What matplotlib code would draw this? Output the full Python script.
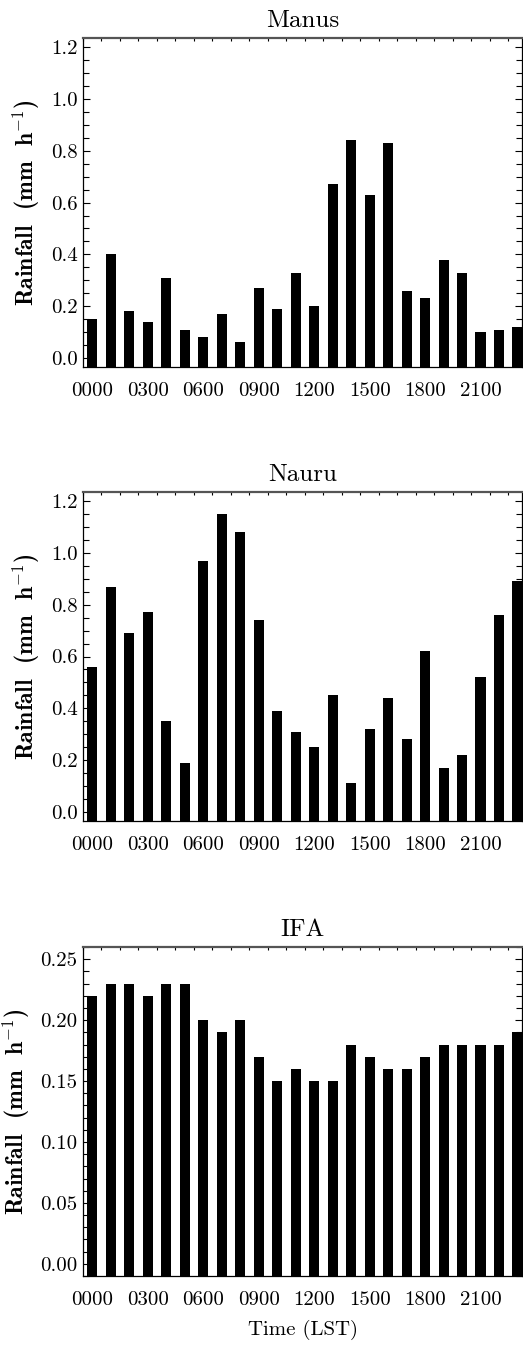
import numpy as np
import matplotlib.pyplot as plt
from matplotlib.ticker import MultipleLocator

plt.rcParams['font.family'] = ['cmr10', 'DejaVu Serif']
plt.rcParams['mathtext.fontset'] = 'cm'
plt.rcParams['axes.unicode_minus'] = False

hours = np.arange(24)
hour_labels = ['0000', '0300', '0600', '0900', '1200', '1500', '1800', '2100']

manus = [0.15, 0.40, 0.18, 0.14, 0.31, 0.11, 0.08, 0.17, 0.06, 0.27, 0.19, 0.33,
         0.20, 0.67, 0.84, 0.63, 0.83, 0.26, 0.23, 0.38, 0.33, 0.10, 0.11, 0.12]
nauru = [0.56, 0.87, 0.69, 0.77, 0.35, 0.19, 0.97, 1.15, 1.08, 0.74, 0.39, 0.31,
         0.25, 0.45, 0.11, 0.32, 0.44, 0.28, 0.62, 0.17, 0.22, 0.52, 0.76, 0.89]
ifa = [0.22, 0.23, 0.23, 0.22, 0.23, 0.23, 0.20, 0.19, 0.20, 0.17, 0.15, 0.16,
       0.15, 0.15, 0.18, 0.17, 0.16, 0.16, 0.17, 0.18, 0.18, 0.18, 0.18, 0.19]

panels = [
    ('Manus', manus, (-0.035, 1.235), 0.2, 0.05, '%.1f', 0.7275),
    ('Nauru', nauru, (-0.035, 1.235), 0.2, 0.05, '%.1f', 0.3905),
    ('IFA', ifa, (-0.01, 0.26), 0.05, 0.01, '%.2f', 0.0527),
]

fig = plt.figure(figsize=(5.23, 13.47), dpi=100)

for i, (name, vals, ylim, major, minor, fmt, y0) in enumerate(panels):
    ax = fig.add_axes([0.1587, y0, 0.8394, 0.2442])
    ax.bar(hours, np.array(vals) - ylim[0], bottom=ylim[0], width=0.55,
           color='black', edgecolor='none')
    ax.set_xlim(-0.5, 23.24)
    ax.set_ylim(*ylim)
    ax.set_title(name, fontsize=18, pad=8)

    ax.yaxis.set_major_locator(MultipleLocator(major))
    ax.yaxis.set_minor_locator(MultipleLocator(minor))
    ax.yaxis.set_major_formatter(plt.FormatStrFormatter(fmt))
    ax.tick_params(axis='y', which='both', direction='in', left=True, right=True,
                   labelsize=15, pad=4, width=0.8)
    ax.tick_params(axis='y', which='major', length=5)
    ax.tick_params(axis='y', which='minor', length=4)

    ax.set_xticks(hours[::3])
    ax.set_xticklabels(hour_labels)
    ax.set_xticks(np.arange(-0.5, 23.5, 1), minor=True)
    ax.tick_params(axis='x', which='major', length=0, labelsize=15, pad=11)
    ax.tick_params(axis='x', which='minor', direction='in', top=True, bottom=False,
                   length=2.5, width=0.8)

    ax.spines['top'].set_linewidth(1.6)
    ax.spines['top'].set_color('#555555')
    for s in ['left', 'bottom', 'right']:
        ax.spines[s].set_linewidth(0.9)

    ax.set_ylabel('Rainfall  (mm  h$^{-1}$)', family=['cmb10', 'DejaVu Serif'],
                  fontsize=17, labelpad=6)
    if i == 2:
        ax.set_xlabel('Time (LST)', fontsize=15, labelpad=8)

fig.savefig('out.png', dpi=100)
